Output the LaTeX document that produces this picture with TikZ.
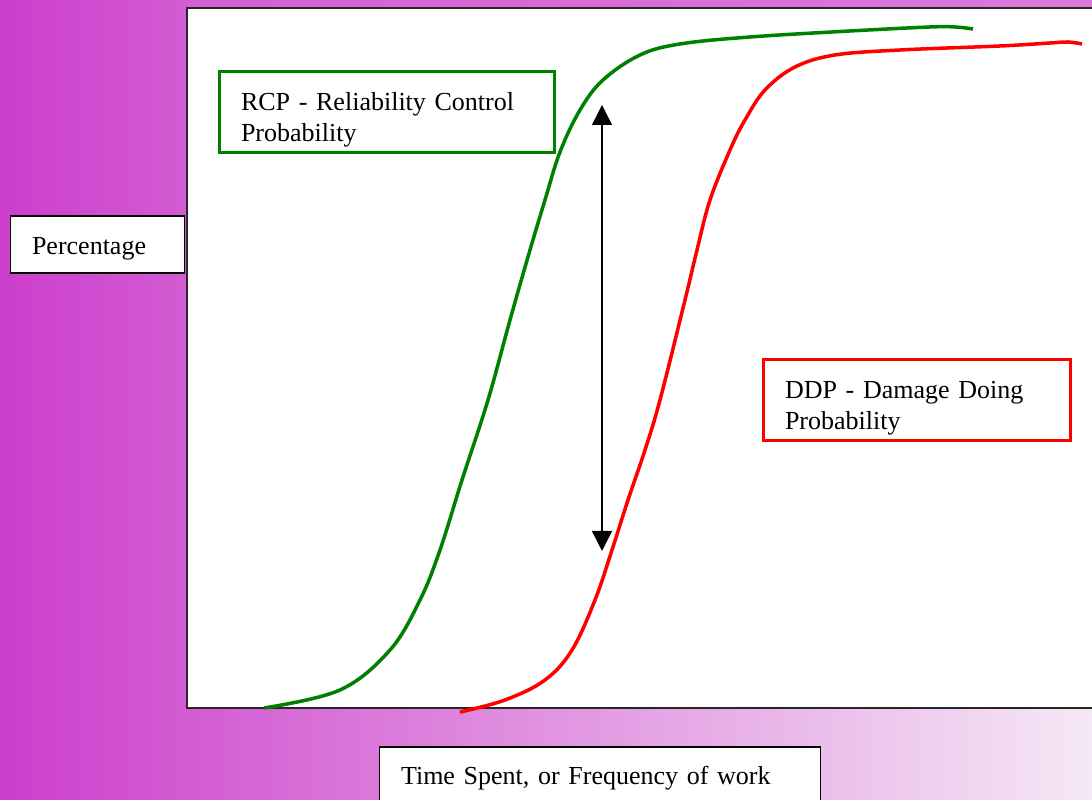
\documentclass[tikz,border=0pt]{standalone}
\usepackage{fontspec}
\setmainfont{Liberation Serif}
\usetikzlibrary{arrows.meta}
\definecolor{rcpgreen}{HTML}{008000}
\definecolor{ddpred}{HTML}{FF0000}
\definecolor{bgdark}{HTML}{CC3ECC}
\definecolor{bglight}{HTML}{F5E8F5}
\begin{document}
\begin{tikzpicture}[x=0.02cm,y=0.02cm,
    lbl/.style={draw=black, line width=1pt, fill=white, align=left, inner xsep=0.43cm,
      font=\fontsize{14.8}{17.6}\selectfont, execute at begin node={\rule{0pt}{#1}}},
    lbl/.default=10pt,
    curve/.style={line width=2pt, smooth, tension=0.6},
    >={Triangle[width=0.4cm,length=0.4cm]}]
  \useasboundingbox (0,0) rectangle (1092,800);
  \shade[left color=bgdark, right color=bglight] (0,0) rectangle (1092,800);
  \shade[left color=bgdark!80!bglight, right color=bgdark!65!bglight] (187,792) rectangle (1092,800);
  \draw[fill=white, line width=1.2pt, draw=black!85] (187,92) rectangle (1096,792);

  \node[lbl=14.5pt, text width=2.62cm, minimum height=1.14cm] (perc) at (97.5,555.5) {Percentage};
  \node[lbl=19pt, draw=rcpgreen, line width=1.7pt, text width=5.84cm, minimum height=1.6cm] (rcp) at (387,688)
    {RCP - Reliability Control\\Probability};
  \node[lbl=19pt, draw=ddpred, line width=1.7pt, text width=5.28cm, minimum height=1.6cm] (ddp) at (917,400)
    {DDP - Damage Doing\\Probability};
  \node[lbl=12.5pt, text width=7.96cm, minimum height=1.16cm] (time) at (600,24) {Time Spent, or Frequency of work};

  \draw[curve, rcpgreen] plot coordinates {(264,92) (340,110) (390,150) (420,200) (440,250) (462,320)
    (488,400) (510,480) (530,550) (545,600) (560,648) (580,690) (603,720) (640,745) (680,756)
    (750,763) (850,769) (930,773) (955,773) (973,771)};
  \draw[curve, ddpred] plot coordinates {(460,88) (505,100) (545,120) (572,150) (595,200) (612,250)
    (628,300) (645,350) (660,400) (685,500) (697,550) (710,600) (730,650) (745,680) (765,710)
    (795,733) (835,745) (900,750) (1000,754) (1050,757) (1068,758) (1082,756)};

  \coordinate (hi) at (602,695);
  \coordinate (lo) at (602,249);
  \draw[<->, line width=0.8pt] (hi) -- (lo);
\end{tikzpicture}
\end{document}
